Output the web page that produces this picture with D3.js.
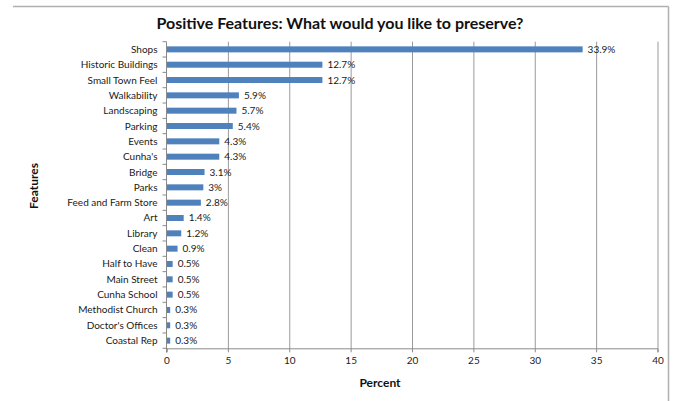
<!DOCTYPE html>
<html>
<head>
<meta charset="utf-8">
<script src="https://cdn.jsdelivr.net/npm/d3@7"></script>
<style>
  html, body { margin: 0; padding: 0; background: #fff; }
  svg { display: block; font-family: Lato, "Open Sans", sans-serif; }
</style>
</head>
<body>
<svg id="chart" width="673" height="401"></svg>
<script>
// Survey responses: features residents want to preserve (percent)
const categories = [
  "Shops", "Historic Buildings", "Small Town Feel", "Walkability", "Landscaping",
  "Parking", "Events", "Cunha's", "Bridge", "Parks", "Feed and Farm Store",
  "Art", "Library", "Clean", "Half to Have", "Main Street", "Cunha School",
  "Methodist Church", "Doctor's Offices", "Coastal Rep"
];
const percents = [
  33.9, 12.7, 12.7, 5.9, 5.7, 5.4, 4.3, 4.3, 3.1, 3, 2.8,
  1.4, 1.2, 0.9, 0.5, 0.5, 0.5, 0.3, 0.3, 0.3
];
const valueLabels = [
  "33.9%", "12.7%", "12.7%", "5.9%", "5.7%", "5.4%", "4.3%", "4.3%", "3.1%", "3%", "2.8%",
  "1.4%", "1.2%", "0.9%", "0.5%", "0.5%", "0.5%", "0.3%", "0.3%", "0.3%"
];
const xTicks = [0, 5, 10, 15, 20, 25, 30, 35, 40];

const rows = categories.map((c, i) => ({ name: c, value: percents[i], label: valueLabels[i] }));

const svg = d3.select("#chart");
const plot = { left: 166.5, right: 657.5, top: 41.7, bottom: 348.3 };
const barHeight = 6;
const textColor = "#1a1a1a";

const x = d3.scaleLinear().domain([0, 40]).range([plot.left, plot.right]);
const y = d3.scaleBand().domain(categories).range([plot.top, plot.bottom]);

// chart frame (top and right edges)
svg.append("line").attr("x1", 13).attr("x2", 668.5).attr("y1", 6.5).attr("y2", 6.5)
  .attr("stroke", "#b0b0b0").attr("stroke-width", 1.5);
svg.append("line").attr("x1", 668.5).attr("x2", 668.5).attr("y1", 6.5).attr("y2", 401)
  .attr("stroke", "#b0b0b0").attr("stroke-width", 1.5);

// vertical gridlines
svg.append("g").selectAll("line").data(xTicks.filter(t => t > 0)).join("line")
  .attr("x1", d => x(d) + 0.5).attr("x2", d => x(d) + 0.5)
  .attr("y1", plot.top).attr("y2", plot.bottom)
  .attr("stroke", "#9a9a9a").attr("stroke-width", 1);

// bars
svg.append("g").selectAll("rect").data(rows).join("rect")
  .attr("x", x(0))
  .attr("y", d => y(d.name) + (y.bandwidth() - barHeight) / 2)
  .attr("width", d => x(d.value) - x(0))
  .attr("height", barHeight)
  .attr("fill", "#4f81bd");

// value labels
svg.append("g").selectAll("text").data(rows).join("text")
  .attr("x", d => x(d.value) + 5)
  .attr("y", d => y(d.name) + y.bandwidth() / 2)
  .attr("dy", "0.35em")
  .attr("font-size", 10)
  .attr("fill", textColor)
  .text(d => d.label);

// x axis
const xAxis = d3.axisBottom(x).tickValues(xTicks).tickSize(4).tickPadding(5);
const gx = svg.append("g").attr("transform", `translate(0,${plot.bottom})`).call(xAxis);
gx.select(".domain").attr("stroke", "#8a8a8a");
gx.selectAll(".tick line").attr("stroke", "#8a8a8a");
gx.selectAll(".tick text").attr("font-size", 10).attr("fill", textColor)
  .attr("font-family", "Lato, 'Open Sans', sans-serif");

// y axis with ticks between categories
svg.append("line").attr("x1", plot.left).attr("x2", plot.left)
  .attr("y1", plot.top).attr("y2", plot.bottom + 4).attr("stroke", "#8a8a8a");
const bounds = categories.map(c => y(c)).concat([plot.bottom]);
svg.append("g").selectAll("line").data(bounds).join("line")
  .attr("x1", plot.left - 4).attr("x2", plot.left)
  .attr("y1", d => d).attr("y2", d => d)
  .attr("stroke", "#8a8a8a");
svg.append("g").selectAll("text").data(categories).join("text")
  .attr("x", plot.left - 9)
  .attr("y", d => y(d) + y.bandwidth() / 2)
  .attr("dy", "0.35em")
  .attr("text-anchor", "end")
  .attr("font-size", 10)
  .attr("fill", textColor)
  .text(d => d);

// titles
svg.append("text").attr("x", 340).attr("y", 29).attr("text-anchor", "middle")
  .attr("font-size", 16).attr("font-weight", "bold").attr("fill", "#111")
  .text("Positive Features: What would you like to preserve?");
svg.append("text").attr("x", 380).attr("y", 387).attr("text-anchor", "middle")
  .attr("font-size", 12).attr("font-weight", "bold").attr("fill", "#111")
  .text("Percent");
svg.append("text").attr("transform", "translate(38,186) rotate(-90)").attr("text-anchor", "middle")
  .attr("font-size", 12).attr("font-weight", "bold").attr("fill", "#111")
  .text("Features");
</script>
</body>
</html>
